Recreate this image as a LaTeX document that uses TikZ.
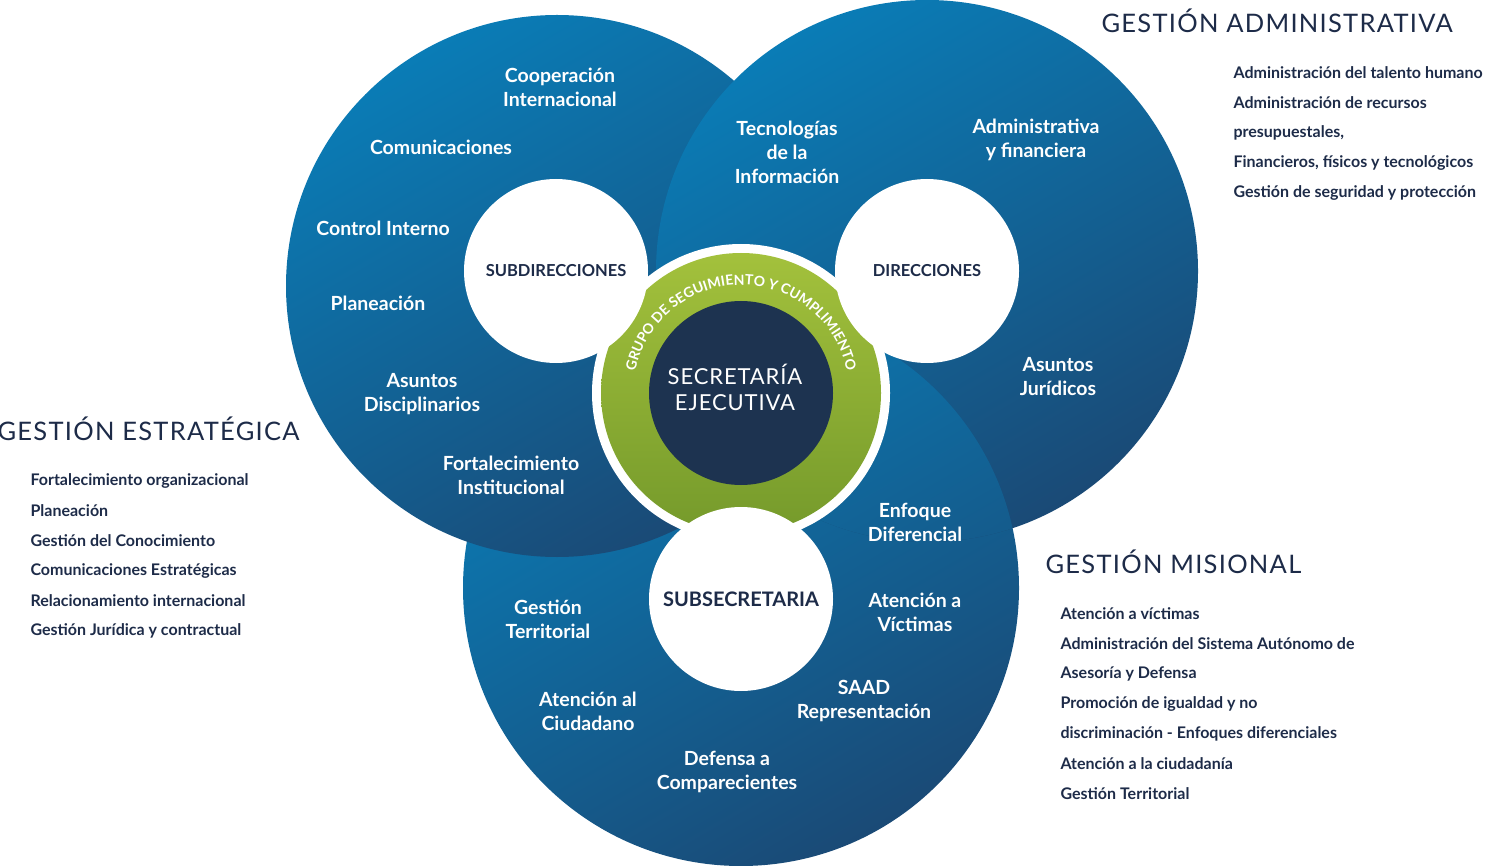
\documentclass[tikz,border=0pt]{standalone}
\usepackage{fontspec}
\setmainfont{Lato}
\usetikzlibrary{decorations.text}
\definecolor{bl}{HTML}{0A7CB6}
\definecolor{bd}{HTML}{1A4A76}
\definecolor{navy}{HTML}{1D2B48}
\definecolor{gl}{HTML}{A3C13C}
\definecolor{gd}{HTML}{759A2B}
\definecolor{core}{HTML}{1D3350}
\tikzset{
  x=1pt,y=-1pt,
  big/.style={top color=bl,bottom color=bd,shading angle=30},
  lab/.style={text=white,font=\fontsize{19.5}{24}\selectfont\bfseries,align=center},
  wlab/.style={text=navy,font=\fontsize{16.5}{19}\selectfont\bfseries},
  head/.style={text=navy,anchor=west,font=\fontsize{25.5}{28}\selectfont\addfontfeature{LetterSpace=5}},
  item/.style={text=navy,anchor=west,font=\fontsize{16}{18}\selectfont\bfseries},
}
\begin{document}
\begin{tikzpicture}
\useasboundingbox (0,0) rectangle (1485,866);
\coordinate (cl) at (557,286);
\coordinate (cr) at (927,271);
\coordinate (cb) at (741,588);
\coordinate (cc) at (741,393);
\shade[big] (cb) circle (278);
\shade[big] (cl) circle (271);
\shade[big] (cr) circle (271);
\begin{scope}
\clip (cr) circle (271);
\shade[big] (cb) circle (278);
\end{scope}
\fill[white] (cc) circle (149);
\shade[top color=gl,bottom color=gd] (cc) circle (140);
\fill[core] (cc) circle (92);
\fill[white] (556,271) circle (92) node[wlab]{SUBDIRECCIONES};
\fill[white] (927,271) circle (92) node[wlab]{DIRECCIONES};
\fill[white] (741,599) circle (92) node[wlab,font=\fontsize{20}{22}\selectfont\bfseries]{SUBSECRETARIA};
\path[decorate,decoration={text along path,text align=center,
  text={|\fontsize{14}{16}\selectfont\bfseries\color{white}|GRUPO DE SEGUIMIENTO Y CUMPLIMIENTO}}]
  (cc) ++(167:108) arc (167:373:108);
\node[text=white,align=center,font=\fontsize{22}{26}\selectfont\addfontfeature{LetterSpace=4}] (se) at (735,387) {SECRETARÍA\\EJECUTIVA};
% left
\node[lab] (l1) at (560,87) {Cooperación\\Internacional};
\node[lab] (l2) at (441,147) {Comunicaciones};
\node[lab] (l3) at (383,228) {Control Interno};
\node[lab] (l4) at (378,303) {Planeación};
\node[lab] (l5) at (422,394) {Asuntos\\Disciplinarios};
\node[lab] (l6) at (511,475) {Fortalecimiento\\Institucional};
% right
\node[lab] (r1) at (787,152) {Tecnologías\\de la\\Información};
\node[lab] (r2) at (1036,140) {Administrativa\\y financiera};
\node[lab] (r3) at (1058,377) {Asuntos\\Jurídicos};
% bottom
\node[lab] (b1) at (915,522) {Enfoque\\Diferencial};
\node[lab] (b2) at (548,619) {Gestión\\Territorial};
\node[lab] (b3) at (915,612) {Atención a\\Víctimas};
\node[lab] (b4) at (864,701) {SAAD\\Representación};
\node[lab] (b5) at (588,711) {Atención al\\Ciudadano};
\node[lab] (b6) at (727,772) {Defensa a\\Comparecientes};
% headings
\node[head] (h1) at (1098,21) {GESTIÓN ADMINISTRATIVA};
\node[head] (h2) at (-6,429) {GESTIÓN ESTRATÉGICA};
\node[head] (h3) at (1042,562) {GESTIÓN MISIONAL};
\foreach \t [count=\i] in {Administración del talento humano,Administración de recursos,{presupuestales,},{Financieros, físicos y tecnológicos},Gestión de seguridad y protección}
  \node[item] (a\i) at (1230,{43+30*\i}) {\t};
\foreach \t [count=\i] in {Fortalecimiento organizacional,Planeación,Gestión del Conocimiento,Comunicaciones Estratégicas,Relacionamiento internacional,Gestión Jurídica y contractual}
  \node[item] (e\i) at (27,{451+30*\i}) {\t};
\foreach \t [count=\i] in {Atención a víctimas,Administración del Sistema Autónomo de,Asesoría y Defensa,Promoción de igualdad y no,discriminación - Enfoques diferenciales,Atención a la ciudadanía,Gestión Territorial}
  \node[item] (m\i) at (1057,{584+30*\i}) {\t};
\end{tikzpicture}
\end{document}
